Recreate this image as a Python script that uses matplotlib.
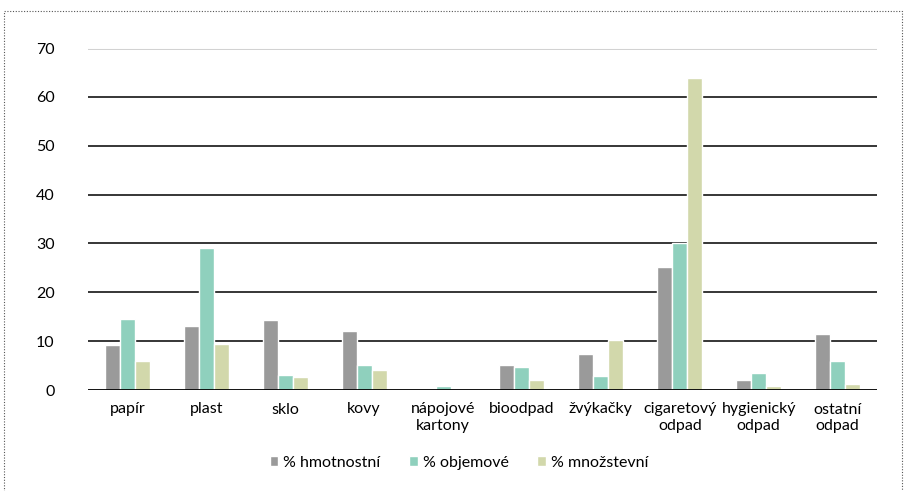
import numpy as np
import matplotlib
matplotlib.use("Agg")
import matplotlib.pyplot as plt
from matplotlib.patches import Rectangle

plt.rcParams['font.family'] = ['Lato', 'DejaVu Sans']

categories = ['papír', 'plast', 'sklo', 'kovy', 'nápojové\nkartony', 'bioodpad',
              'žvýkačky', 'cigaretový\nodpad', 'hygienický\nodpad', 'ostatní\nodpad']
hmotnostni = [9.3, 13.0, 14.4, 12.0, 0.0, 5.2, 7.3, 25.1, 2.0, 11.4]
objemove = [14.6, 29.0, 3.0, 5.2, 0.75, 4.8, 2.9, 30.0, 3.4, 5.9]
mnozstevni = [6.0, 9.5, 2.6, 4.0, 0.0, 2.1, 10.3, 63.9, 0.9, 1.2]
series_names = ['% hmotnostní', '% objemové', '% množstevní']
colors = ['#9a9a9a', '#8fd0bd', '#d2d8ab']

fig = plt.figure(figsize=(9.05, 4.91), dpi=100)
ax = fig.add_axes([88/905, 1-390/491, (877-88)/905, (390-48)/491])

x = np.arange(len(categories))
w = 0.19
for i, (vals, name, c) in enumerate(zip([hmotnostni, objemove, mnozstevni], series_names, colors)):
    ax.bar(x + (i-1)*w, vals, w, color=c, edgecolor='white', linewidth=1.0, label=name, zorder=3)

ax.set_xlim(-0.5, len(categories)-0.5)
ax.set_ylim(0, 70)
ax.set_yticks(range(0, 80, 10))
for v in range(10, 70, 10):
    ax.axhline(v, color='black', lw=1.1, zorder=1)
ax.axhline(70, color='#d0d0d0', lw=2.8, zorder=1)
ax.axhline(70, color='white', lw=0.7, zorder=1)
ax.axhline(0, color='black', lw=1.3, zorder=4)
for s in ax.spines.values():
    s.set_visible(False)
ax.set_xticks(x)
ax.set_xticklabels(categories, fontsize=11.5, va='top', linespacing=1.25)
ax.tick_params(axis='x', length=0, pad=9)
ax.tick_params(axis='y', length=0, pad=24, labelsize=11.5)

ax.legend(loc='upper center', bbox_to_anchor=(0.47, -0.15), ncol=3, frameon=False,
          fontsize=11.5, handlelength=0.55, handleheight=0.55, handletextpad=0.3, columnspacing=1.8)

fig.patches.append(Rectangle((4/905, -0.05), 898/905, 1-11/491+0.05, transform=fig.transFigure,
                             fill=False, edgecolor='#555555', lw=0.8, linestyle=(0, (1, 1.5))))

fig.savefig('out.png', dpi=100)
